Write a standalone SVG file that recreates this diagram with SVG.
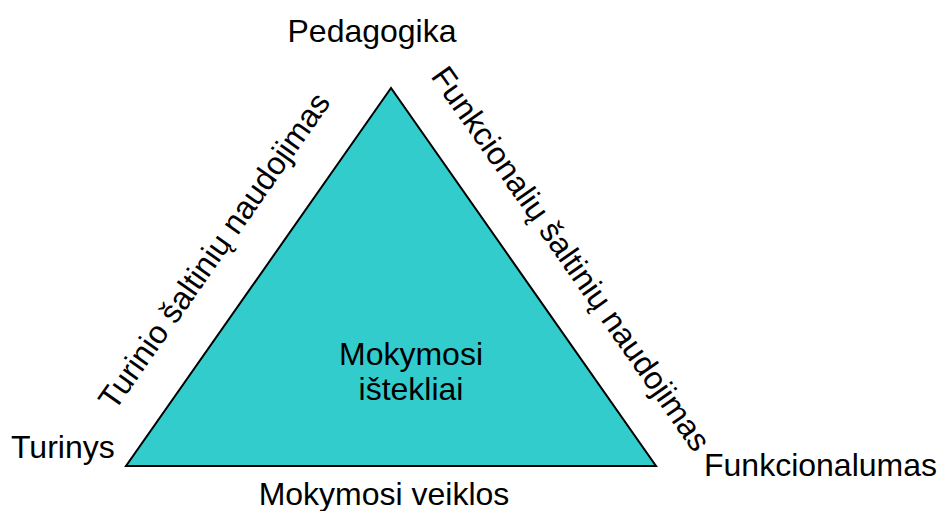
<svg xmlns="http://www.w3.org/2000/svg" width="939" height="511" viewBox="0 0 939 511">
  <style>
    text { font-family: "Liberation Sans", Arial, sans-serif; font-size: 32px; fill: #000; }
    .mid { text-anchor: middle; }
    .tri { fill: #33CCCC; stroke: #000; stroke-width: 2; stroke-linejoin: miter; }
  </style>
  <rect width="939" height="511" fill="#fff"/>
  <g id="triangle">
    <polygon class="tri" points="391,88 126,466 656,466"/>
    <text class="mid" x="411" y="365">Mokymosi</text>
    <text class="mid" x="411" y="400">ištekliai</text>
  </g>
  <g id="corner-pedagogika">
    <text class="mid" x="372" y="42">Pedagogika</text>
  </g>
  <g id="corner-turinys">
    <text x="11" y="458">Turinys</text>
  </g>
  <g id="corner-funkcionalumas">
    <text x="704" y="476">Funkcionalumas</text>
  </g>
  <g id="side-labels">
    <text class="mid" transform="translate(223,257) rotate(-55)">Turinio šaltinių naudojimas</text>
    <text class="mid" transform="translate(562,265) rotate(55)">Funkcionalių šaltinių naudojimas</text>
    <text class="mid" x="384" y="505">Mokymosi veiklos</text>
  </g>
</svg>
